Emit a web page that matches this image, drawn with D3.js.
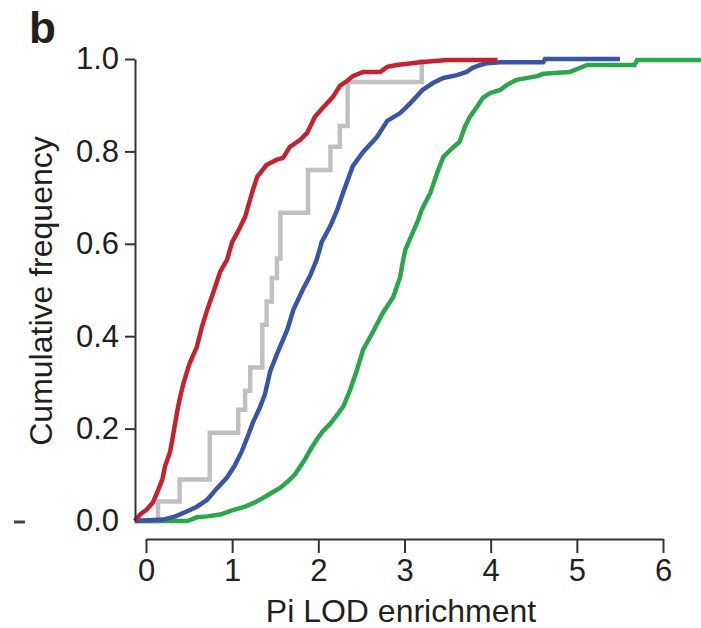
<!DOCTYPE html>
<html>
<head>
<meta charset="utf-8">
<script src="https://cdn.jsdelivr.net/npm/d3@7"></script>
<style>
  body { margin: 0; background: #fff; }
  svg { display: block; font-family: "Liberation Sans", Arial, Helvetica, sans-serif; }
</style>
</head>
<body>
<svg id="drawing_region"></svg>
<script>
// cumulative frequency curves (x = Pi LOD enrichment, y = cumulative frequency)
const redX = [-0.13, -0.07, 0.01, 0.08, 0.13, 0.19, 0.22, 0.28, 0.31, 0.36, 0.39, 0.43, 0.49, 0.51, 0.59, 0.65, 0.71, 0.78, 0.86, 0.94, 1.00, 1.06, 1.15, 1.23, 1.29, 1.40, 1.52, 1.59, 1.67, 1.79, 1.87, 1.96, 2.05, 2.17, 2.25, 2.33, 2.40, 2.52, 2.72, 2.80, 2.91, 3.18, 3.49, 4.08];
const redY = [0, 0.014, 0.025, 0.040, 0.062, 0.090, 0.118, 0.150, 0.181, 0.235, 0.263, 0.295, 0.332, 0.343, 0.377, 0.421, 0.457, 0.494, 0.539, 0.565, 0.604, 0.624, 0.658, 0.710, 0.745, 0.771, 0.782, 0.786, 0.810, 0.825, 0.840, 0.875, 0.894, 0.918, 0.942, 0.952, 0.963, 0.972, 0.972, 0.983, 0.987, 0.993, 0.998, 0.998];

const grayX = [-0.13, 0.14, 0.39, 0.74, 1.07, 1.15, 1.21, 1.35, 1.40, 1.46, 1.52, 1.56, 1.88, 2.14, 2.25, 2.34, 3.20];
const grayY = [0, 0.042, 0.090, 0.191, 0.241, 0.282, 0.332, 0.425, 0.475, 0.526, 0.568, 0.667, 0.760, 0.810, 0.855, 0.950, 1.0];

const blueX = [-0.13, 0.20, 0.34, 0.48, 0.59, 0.71, 0.82, 0.94, 1.03, 1.11, 1.18, 1.24, 1.32, 1.38, 1.44, 1.53, 1.64, 1.71, 1.82, 1.90, 1.98, 2.04, 2.14, 2.22, 2.29, 2.40, 2.52, 2.68, 2.80, 2.95, 3.06, 3.21, 3.33, 3.45, 3.61, 3.72, 3.79, 3.88, 3.96, 4.11, 4.61, 4.63, 5.50];
const blueY = [0, 0.003, 0.010, 0.021, 0.031, 0.046, 0.070, 0.094, 0.120, 0.150, 0.183, 0.213, 0.245, 0.274, 0.323, 0.366, 0.414, 0.457, 0.501, 0.529, 0.565, 0.604, 0.639, 0.674, 0.712, 0.768, 0.799, 0.831, 0.866, 0.883, 0.903, 0.933, 0.948, 0.959, 0.965, 0.972, 0.981, 0.987, 0.991, 0.993, 0.993, 1.0, 1.0];

const greenX = [-0.13, 0.16, 0.48, 0.59, 0.71, 0.86, 1.00, 1.15, 1.26, 1.35, 1.44, 1.56, 1.66, 1.73, 1.79, 1.85, 1.91, 1.98, 2.05, 2.14, 2.22, 2.29, 2.37, 2.45, 2.52, 2.63, 2.75, 2.87, 2.95, 2.98, 3.01, 3.06, 3.16, 3.20, 3.30, 3.38, 3.45, 3.56, 3.64, 3.70, 3.76, 3.84, 3.91, 3.99, 4.11, 4.19, 4.30, 4.54, 4.61, 4.92, 5.04, 5.12, 5.67, 5.70, 6.45];
const greenY = [0, 0, 0, 0.008, 0.010, 0.014, 0.023, 0.031, 0.040, 0.049, 0.059, 0.072, 0.088, 0.101, 0.118, 0.135, 0.155, 0.176, 0.194, 0.211, 0.230, 0.248, 0.284, 0.328, 0.371, 0.408, 0.451, 0.485, 0.529, 0.561, 0.587, 0.609, 0.652, 0.674, 0.710, 0.754, 0.788, 0.808, 0.821, 0.853, 0.875, 0.896, 0.916, 0.926, 0.933, 0.944, 0.955, 0.963, 0.968, 0.972, 0.981, 0.987, 0.987, 0.998, 0.998];

const xTicks = [0, 1, 2, 3, 4, 5, 6];
const yTicks = [0, 0.2, 0.4, 0.6, 0.8, 1.0];

const seriesNames = ['gray', 'green', 'blue', 'red'];
const seriesColors = ['#c0c0c0', '#2ba64a', '#3a55a6', '#c52230'];

class CdfChart {

    constructor( config, series ) {
        this.config = config;
        this.series = series;
        this.init();
    }

    init() {
        let self = this;

        self.svg = d3.select( self.config.parent )
            .attr('width', self.config.width)
            .attr('height', self.config.height);

        self.xscale = d3.scaleLinear()
            .domain([0, 6])
            .range([146, 663]);

        self.yscale = d3.scaleLinear()
            .domain([0, 1])
            .range([521, 59]);

        self.xaxis = d3.axisBottom( self.xscale )
            .tickValues( xTicks )
            .tickFormat( d3.format('d') )
            .tickSize(14)
            .tickSizeOuter(0)
            .tickPadding(6);

        self.yaxis = d3.axisLeft( self.yscale )
            .tickValues( yTicks )
            .tickFormat( d3.format('.1f') )
            .tickSize(10)
            .tickSizeOuter(0)
            .tickPadding(6);

        self.line = d3.line()
            .x( d => self.xscale( d.x ) )
            .y( d => self.yscale( d.y ) );
    }

    render() {
        let self = this;

        // curves first so the axes text stays clean
        self.svg.selectAll('path.cdf')
            .data( self.series )
            .join('path')
            .attr('class', 'cdf')
            .attr('fill', 'none')
            .attr('stroke', d => d.color)
            .attr('stroke-width', 4.5)
            .attr('stroke-linejoin', 'miter')
            .attr('d', d => self.line.curve( d.step ? d3.curveStepAfter : d3.curveLinear )( d.values ));

        const xg = self.svg.append('g')
            .attr('transform', 'translate(0, 539)')
            .call( self.xaxis );

        const yg = self.svg.append('g')
            .attr('transform', 'translate(135, 0)')
            .call( self.yaxis );

        // no tick mark at 0.0 in the original
        yg.selectAll('.tick line').filter( d => d === 0 ).remove();

        [xg, yg].forEach( g => {
            g.select('.domain').attr('stroke', '#333').attr('stroke-width', 2);
            g.selectAll('.tick line').attr('stroke', '#333').attr('stroke-width', 2);
            g.selectAll('.tick text')
                .attr('fill', '#231f20')
                .attr('font-size', '31px')
                .attr('font-family', '"Liberation Sans", Arial, sans-serif');
        });

        self.svg.append('text')
            .attr('x', 401)
            .attr('y', 622)
            .attr('text-anchor', 'middle')
            .attr('font-size', '32px')
            .attr('fill', '#231f20')
            .text('Pi LOD enrichment');

        self.svg.append('text')
            .attr('transform', 'translate(52, 291) rotate(-90)')
            .attr('text-anchor', 'middle')
            .attr('font-size', '32px')
            .attr('fill', '#231f20')
            .text('Cumulative frequency');

        self.svg.append('text')
            .attr('x', 29)
            .attr('y', 43)
            .attr('font-size', '44px')
            .attr('font-weight', 'bold')
            .attr('fill', '#231f20')
            .text('b');

        // small stray dash left of the 0.0 label
        self.svg.append('line')
            .attr('x1', 14).attr('x2', 25)
            .attr('y1', 522).attr('y2', 522)
            .attr('stroke', '#444')
            .attr('stroke-width', 3);
    }
}

const toPoints = (xs, ys) => xs.map( (x, i) => ({ x: x, y: ys[i] }) );

const series = [
    { name: seriesNames[0], color: seriesColors[0], step: true,  values: toPoints( grayX, grayY ) },
    { name: seriesNames[1], color: seriesColors[1], step: false, values: toPoints( greenX, greenY ) },
    { name: seriesNames[2], color: seriesColors[2], step: false, values: toPoints( blueX, blueY ) },
    { name: seriesNames[3], color: seriesColors[3], step: false, values: toPoints( redX, redY ) }
];

const chart = new CdfChart( { parent: '#drawing_region', width: 701, height: 628 }, series );
chart.render();
</script>
</body>
</html>
